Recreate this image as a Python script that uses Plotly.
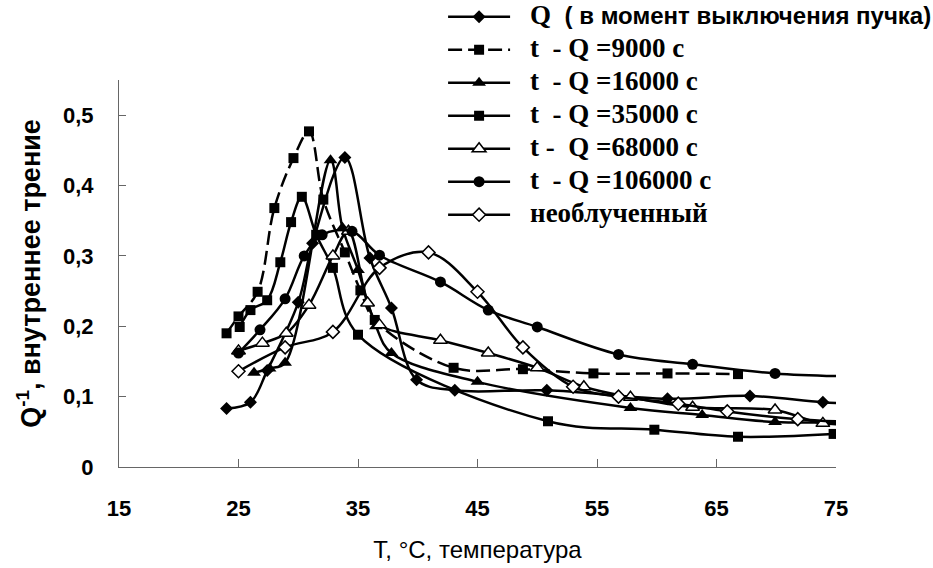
import plotly.graph_objects as go

# ---- data ----
T_q = [24, 26, 27.4, 30, 31.2, 33.9, 36.0, 37.8, 39.9, 43.1, 50.8, 60.9, 67.8, 73.9, 78]
Q_q = [0.083, 0.092, 0.137, 0.234, 0.318, 0.44, 0.297, 0.226, 0.124, 0.109, 0.109, 0.097, 0.101, 0.092, 0.089]

T_9000 = [24.0, 25.0, 26.6, 28.0, 29.6, 30.9, 32.1, 33.9, 35.2, 36.4, 43.0, 48.8, 54.7, 60.9, 66.8]
Q_9000 = [0.19, 0.214, 0.249, 0.368, 0.439, 0.477, 0.38, 0.305, 0.251, 0.209, 0.141, 0.139, 0.133, 0.133, 0.132]

T_16000 = [26.3, 27.6, 28.9, 32.7, 33.7, 35.0, 36.5, 37.8, 45.0, 57.8, 63.8, 69.9, 78]
Q_16000 = [0.134, 0.14, 0.148, 0.436, 0.34, 0.28, 0.2, 0.162, 0.121, 0.084, 0.074, 0.064, 0.065]

T_35000 = [25.1, 26.0, 27.4, 28.5, 29.4, 30.3, 31.5, 32.9, 35.0, 50.9, 59.8, 66.8, 74.8]
Q_35000 = [0.199, 0.223, 0.237, 0.291, 0.348, 0.384, 0.33, 0.283, 0.188, 0.065, 0.053, 0.043, 0.047]

T_68000 = [25.0, 27.0, 29.0, 30.9, 32.9, 34.2, 35.8, 36.8, 41.9, 45.9, 50.0, 53.9, 57.8, 63.0, 69.9, 73.9, 78]
Q_68000 = [0.165, 0.176, 0.19, 0.23, 0.30, 0.335, 0.233, 0.202, 0.18, 0.162, 0.141, 0.114, 0.099, 0.085, 0.081, 0.062, 0.063]

T_106000 = [25.0, 26.8, 28.9, 30.5, 32.0, 34.5, 36.8, 41.9, 45.9, 50.0, 56.8, 63.0, 69.9, 78]
Q_106000 = [0.162, 0.195, 0.239, 0.30, 0.33, 0.335, 0.301, 0.263, 0.223, 0.199, 0.16, 0.146, 0.133, 0.128]

T_unirr = [25.0, 28.9, 32.9, 36.8, 40.9, 45.0, 48.8, 53.0, 56.8, 61.8, 65.9, 71.8, 78]
Q_unirr = [0.136, 0.17, 0.192, 0.283, 0.305, 0.249, 0.17, 0.114, 0.1, 0.09, 0.079, 0.068, 0.063]

PAD = "\u00a0\u00a0\u00a0"
SER = "<span style='font-size:27px'><b>{}</b></span>"
names = [
    PAD + SER.format("Q\u00a0\u00a0")
    + "<span style='font-family:Liberation Sans;font-size:24px'><b>( в момент выключения пучка)</b></span>",
    PAD + SER.format("t\u00a0\u00a0- Q =9000 с"),
    PAD + SER.format("t\u00a0\u00a0- Q =16000 с"),
    PAD + SER.format("t\u00a0\u00a0- Q =35000 с"),
    PAD + SER.format("t -\u00a0\u00a0Q =68000 с"),
    PAD + SER.format("t\u00a0\u00a0- Q =106000 с"),
    PAD + SER.format("необлученный"),
]

x_ticks = [15, 25, 35, 45, 55, 65, 75]
x_ticktext = ["15", "25", "35", "45", "55", "65", "75"]
y_ticks = [0, 0.1, 0.2, 0.3, 0.4, 0.5]
y_ticktext = ["0", "0,1", "0,2", "0,3", "0,4", "0,5"]

series = [
    (T_q, Q_q, dict(symbol="diamond", size=10, color="black"), "solid"),
    (T_9000, Q_9000, dict(symbol="square", size=10, color="black"), "14px,6px"),
    (T_16000, Q_16000, dict(symbol="triangle-up", size=12, color="black"), "solid"),
    (T_35000, Q_35000, dict(symbol="square", size=10, color="black"), "solid"),
    (T_68000, Q_68000, dict(symbol="triangle-up", size=12, color="white",
                            line=dict(color="black", width=1.5)), "solid"),
    (T_106000, Q_106000, dict(symbol="circle", size=11, color="black"), "solid"),
    (T_unirr, Q_unirr, dict(symbol="diamond", size=10, color="white",
                            line=dict(color="black", width=1.5)), "solid"),
]

fig = go.Figure()
for i, (xs, ys, mk, dash) in enumerate(series):
    fig.add_trace(go.Scatter(
        x=xs, y=ys, mode="lines+markers", name=names[i],
        legendgroup=f"g{i}",
        line=dict(color="black", width=2.5, shape="spline", smoothing=1, dash=dash),
        marker=mk,
    ))

fig.update_layout(
    width=933, height=568,
    margin=dict(l=119, r=97, t=80, b=101, autoexpand=False),
    paper_bgcolor="white", plot_bgcolor="white",
    showlegend=True,
    legend=dict(
        x=0.452, y=1.214, xanchor="left", yanchor="top",
        font=dict(family="Liberation Serif", size=20, color="black"),
        itemwidth=62, tracegroupgap=4, bgcolor="rgba(0,0,0,0)",
    ),
    xaxis=dict(
        range=[15, 75], tickvals=x_ticks, ticktext=x_ticktext,
        showgrid=False, zeroline=False, showline=True, linecolor="#666", linewidth=1,
        ticks="inside", ticklen=8, tickcolor="#666",
        tickfont=dict(family="Liberation Sans", size=22, color="black", weight="bold"),
        ticklabelstandoff=22,
        title=dict(text="T, °C, температура", standoff=20,
                   font=dict(family="Liberation Sans", size=24, color="black")),
    ),
    yaxis=dict(
        range=[0, 0.55], tickvals=y_ticks, ticktext=y_ticktext,
        showgrid=False, zeroline=False, showline=True, linecolor="#666", linewidth=1,
        ticks="inside", ticklen=7, tickcolor="#666",
        tickfont=dict(family="Liberation Sans", size=22, color="black", weight="bold"),
        ticklabelstandoff=20,
        title=dict(text="Q<sup>-1</sup>, внутреннее трение", standoff=14,
                   font=dict(family="Liberation Sans", size=27, color="black", weight="bold")),
    ),
)

fig.write_html("out.html")
